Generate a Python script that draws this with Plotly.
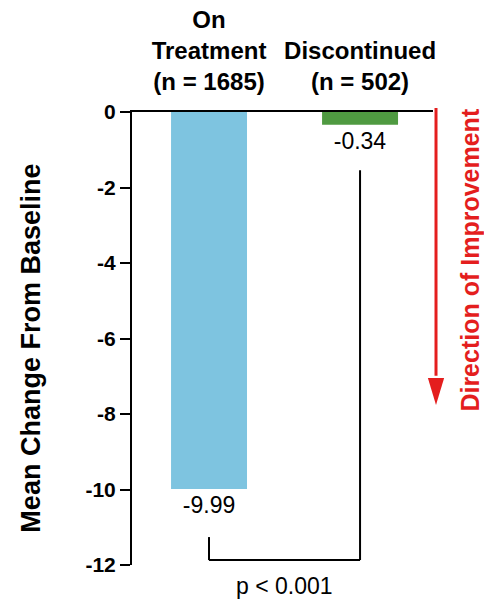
import plotly.graph_objects as go

# ---- data ----
categories = ["On<br>Treatment<br>(n = 1685)", "Discontinued<br>(n = 502)"]
cat_pos = [0, 1]
mean_change = [-9.99, -0.34]
value_labels = ["-9.99", "-0.34"]
bar_colors = ["#7EC4E0", "#4F9A41"]
y_ticks = [0, -2, -4, -6, -8, -10, -12]
p_label = "p < 0.001"
y_title = "Mean Change From Baseline"
direction_label = "Direction of Improvement"

# bracket levels (data units)
bracket_bottom = -11.87
bracket_gap = [1.27, 1.2]

FONT = "Arial, Liberation Sans, sans-serif"
RED = "#E41E1E"

fig = go.Figure()
fig.add_trace(go.Bar(
    x=cat_pos, y=mean_change, width=0.503,
    marker=dict(color=bar_colors, line=dict(width=0)),
    text=value_labels, textposition="outside", cliponaxis=False,
    textfont=dict(family=FONT, size=23, color="black"),
    hoverinfo="skip",
))

# significance bracket
b0 = mean_change[0] - bracket_gap[0]
b1 = mean_change[1] - bracket_gap[1]
line = dict(color="black", width=2)
fig.add_shape(type="line", xref="x", yref="y", x0=cat_pos[0], x1=cat_pos[0], y0=b0, y1=bracket_bottom, line=line)
fig.add_shape(type="line", xref="x", yref="y", x0=cat_pos[0], x1=cat_pos[1], y0=bracket_bottom, y1=bracket_bottom, line=line)
fig.add_shape(type="line", xref="x", yref="y", x0=cat_pos[1], x1=cat_pos[1], y0=b1, y1=bracket_bottom, line=line)

fig.add_annotation(x=(cat_pos[0] + cat_pos[1]) / 2, xref="x", y=-0.046, yref="paper",
                   text=p_label, showarrow=False, yanchor="middle",
                   font=dict(family=FONT, size=23, color="black"))

# y title
fig.add_annotation(x=-0.335, xref="paper", y=0.478, yref="paper", text=y_title,
                   textangle=-90, showarrow=False, xanchor="center", yanchor="middle",
                   font=dict(family=FONT, size=27, color="black", weight="bold"))

# direction arrow (shaft + head), paper coordinates
ax_x = 1.01
arrow_top, head_base, head_tip = 1.009, 0.413, 0.3532
head_half = 0.027
fig.add_shape(type="line", xref="paper", yref="paper", x0=ax_x, x1=ax_x,
              y0=arrow_top, y1=head_base + 0.005, line=dict(color=RED, width=3))
fig.add_shape(type="path", xref="paper", yref="paper",
              path=f"M {ax_x - head_half} {head_base} L {ax_x + head_half} {head_base} L {ax_x} {head_tip} Z",
              fillcolor=RED, line=dict(color=RED, width=0))
fig.add_annotation(x=1.123, xref="paper", y=0.672, yref="paper", text=direction_label,
                   textangle=-90, showarrow=False, xanchor="center", yanchor="middle",
                   font=dict(family=FONT, size=25, color=RED, weight="bold"))

fig.update_layout(
    width=484, height=601,
    margin=dict(l=132, r=51, t=112, b=36, autoexpand=False),
    paper_bgcolor="white", plot_bgcolor="white",
    showlegend=False,
    xaxis=dict(
        side="top", range=[-0.51, 1.483], tickvals=cat_pos, ticktext=categories,
        showline=True, linecolor="black", linewidth=2, ticks="",
        ticklabelstandoff=10, automargin=False,
        showgrid=False, zeroline=False, fixedrange=True,
        tickfont=dict(family=FONT, size=24, color="black", weight="bold"),
    ),
    yaxis=dict(
        range=[-12, 0], tickvals=y_ticks, ticktext=[str(v) for v in y_ticks],
        showline=True, linecolor="black", linewidth=2, automargin=False,
        ticks="outside", ticklen=10, tickwidth=2, tickcolor="black",
        showgrid=False, zeroline=False, fixedrange=True,
        tickfont=dict(family=FONT, size=21, color="black", weight="bold"),
    ),
)

fig.write_html("out.html")
